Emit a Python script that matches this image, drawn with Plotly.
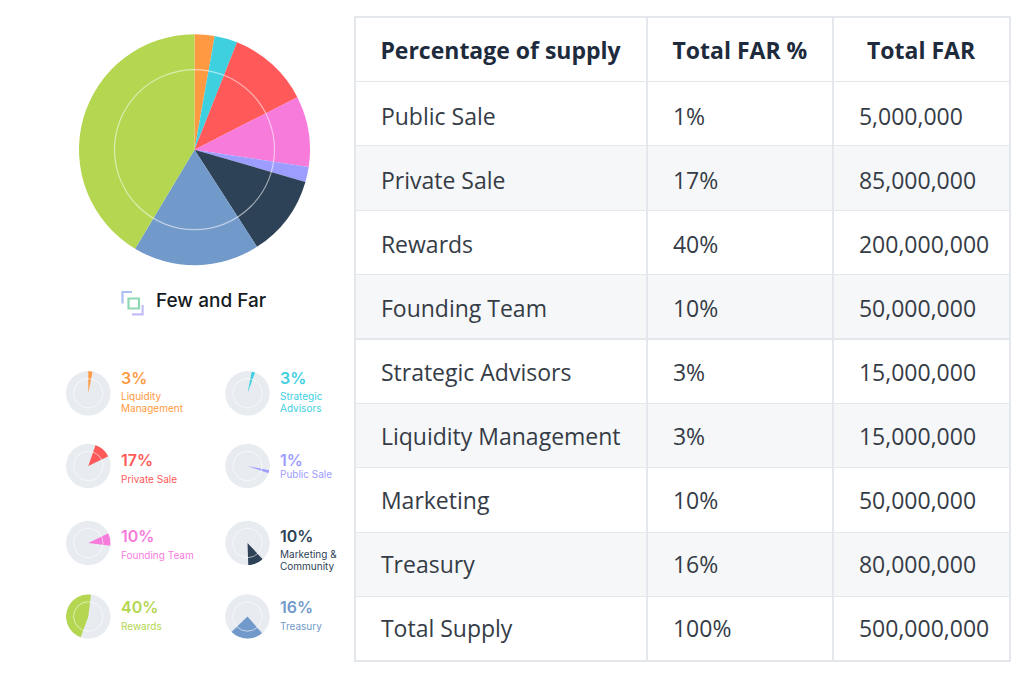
import plotly.graph_objects as go

W, H = 1024, 676

# ---------------- data ----------------
pie_labels = ["Liquidity Management", "Strategic Advisors", "Private Sale", "Founding Team",
              "Public Sale", "Marketing", "Treasury", "Rewards"]
pie_values = [2.8, 3.2, 11.5, 9.9, 2.1, 11.4, 17.7, 41.4]
pie_colors = ["#FF9A42", "#3ED0DF", "#FF5959", "#F77BDB", "#9D9DFF", "#2E4257", "#7199CA", "#B4D650"]

icon_pcts = ["3%", "3%", "17%", "1%", "10%", "10%", "40%", "16%"]
icon_labels = [["Liquidity", "Management"], ["Strategic", "Advisors"], ["Private Sale"], ["Public Sale"],
               ["Founding Team"], ["Marketing &", "Community"], ["Rewards"], ["Treasury"]]
icon_colors = ["#FF9A42", "#3ED0DF", "#FF5959", "#9D9DFF", "#F77BDB", "#2E4257", "#B4D650", "#7199CA"]
icon_start = [0, 11, 19, 101, 64, 137, 200, 139]
icon_end = [11, 20, 64, 109, 97, 178, 367, 226]

tbl_header = ["Percentage of supply", "Total FAR %", "Total FAR"]
tbl_categories = ["Public Sale", "Private Sale", "Rewards", "Founding Team", "Strategic Advisors",
                  "Liquidity Management", "Marketing", "Treasury", "Total Supply"]
tbl_pct = [1, 17, 40, 10, 3, 3, 10, 16, 100]
tbl_far = [5000000, 85000000, 200000000, 50000000, 15000000, 15000000, 50000000, 80000000, 500000000]

# ---------------- helpers ----------------
def X(px):
    return px / W

def Y(py):
    return 1 - py / H

GRAY = "#E8ECF1"
CLEAR = "rgba(0,0,0,0)"
fig = go.Figure()
shapes = []
annotations = []

# main pie
pcx, pcy, pr = 194.5, 149.7, 115.5
fig.add_trace(go.Pie(
    labels=pie_labels, values=pie_values, sort=False, direction="clockwise", rotation=0,
    marker=dict(colors=pie_colors, line=dict(width=0)), textinfo="none",
    domain=dict(x=[X(pcx - pr), X(pcx + pr)], y=[Y(pcy + pr), Y(pcy - pr)]),
    hoverinfo="label+percent",
))
ir = 80
shapes.append(dict(type="circle", xref="paper", yref="paper",
                   x0=X(pcx - ir), x1=X(pcx + ir), y0=Y(pcy + ir), y1=Y(pcy - ir),
                   line=dict(color="rgba(255,255,255,0.55)", width=1.2), layer="above"))

# icons
centers_x = [88.3, 247.5]
centers_y = [393.3, 466, 543, 616.5]
ricon = 22.3
layout_polars = {}
pct_y = [377.7, 460.5, 536, 607]
for i in range(8):
    col, row = i % 2, i // 2
    cx, cy = centers_x[col], centers_y[row]
    name = "polar" if i == 0 else f"polar{i+1}"
    s, e = icon_start[i], icon_end[i]
    fig.add_trace(go.Barpolar(
        r=[1], theta=[(s + e) / 2], width=[e - s], base=0,
        marker=dict(color=icon_colors[i], line=dict(width=0)),
        subplot=name, hoverinfo="skip", name=icon_labels[i][0],
    ))
    layout_polars[name] = dict(
        domain=dict(x=[X(cx - ricon), X(cx + ricon)], y=[Y(cy + ricon), Y(cy - ricon)]),
        bgcolor=GRAY,
        radialaxis=dict(range=[0, 1], visible=False),
        angularaxis=dict(visible=False, rotation=90, direction="clockwise"),
    )
    rr = ricon * 0.66
    shapes.append(dict(type="circle", xref="paper", yref="paper",
                       x0=X(cx - rr), x1=X(cx + rr), y0=Y(cy + rr), y1=Y(cy - rr),
                       line=dict(color="rgba(255,255,255,0.6)", width=1), layer="above"))
    tx = 118.5 if col == 0 else 277.5
    annotations.append(dict(text=icon_pcts[i], x=X(tx), y=Y(pct_y[row]), xref="paper", yref="paper",
                            xanchor="left", yanchor="middle", showarrow=False,
                            font=dict(family="Inter", size=16, color=icon_colors[i], weight=600)))
    lines = icon_labels[i]
    if len(lines) == 1 and i == 3:
        ly = [474]
    elif len(lines) == 1:
        ly = [pct_y[row] + 18.5]
    else:
        ly = [pct_y[row] + 18, pct_y[row] + 30]
    for t, yy in zip(lines, ly):
        annotations.append(dict(text=t, x=X(tx), y=Y(yy), xref="paper", yref="paper",
                                xanchor="left", yanchor="middle", showarrow=False,
                                font=dict(family="Inter", size=10, color=icon_colors[i])))

# logo
shapes.append(dict(type="path", xref="paper", yref="paper",
                   path=f"M {X(122.5)} {Y(303.5)} L {X(122.5)} {Y(292)} L {X(132)} {Y(292)}",
                   line=dict(color="#A9C0F2", width=2.2)))
shapes.append(dict(type="rect", xref="paper", yref="paper",
                   x0=X(128.5), x1=X(139), y0=Y(308.5), y1=Y(298.5),
                   line=dict(color="#8ED9B4", width=2.2)))
shapes.append(dict(type="path", xref="paper", yref="paper",
                   path=f"M {X(132)} {Y(314.3)} L {X(142.6)} {Y(314.3)} L {X(142.6)} {Y(305)}",
                   line=dict(color="#C2BDF6", width=2.2)))
annotations.append(dict(text="Few and Far", x=X(154), y=Y(300.5), xref="paper", yref="paper",
                        xanchor="left", yanchor="middle", showarrow=False,
                        font=dict(family="Inter", size=19, color="#151A22", weight=500)))

# table: grid layer (fills and lines)
n = len(tbl_categories)
row_fill = ["#FFFFFF" if k % 2 == 0 else "#F5F7F9" for k in range(n)]
cols = [[c for c in tbl_categories], [f"{v}%" for v in tbl_pct], [f"{v:,}" for v in tbl_far]]
fig.add_trace(go.Table(
    domain=dict(x=[X(355), X(1010.5)], y=[Y(662.5), Y(17)]),
    columnwidth=[292, 186, 177],
    header=dict(values=["" for _ in tbl_header], height=64.4,
                fill_color="#FFFFFF", line=dict(color="#E4E7EB", width=1.3)),
    cells=dict(values=[["" for _ in c] for c in cols],
               height=64.4, fill_color=[row_fill] * 3,
               line=dict(color="#E4E7EB", width=1.3)),
    hoverinfo="skip",
))
# table: text layer (same table, text centred vertically in its rows)
pad = "\u00a0\u00a0\u00a0"
fig.add_trace(go.Table(
    domain=dict(x=[X(355), X(1010.5)], y=[0, Y(26)]),
    columnwidth=[292, 186, 177],
    header=dict(values=[f"<b>{h}</b>" for h in tbl_header], height=73.5,
                fill_color=CLEAR, line=dict(color=CLEAR, width=0), align="center",
                font=dict(family="Open Sans", size=23, color="#1E2B3C")),
    cells=dict(values=[[pad + v for v in c] for c in cols],
               height=64, fill_color=CLEAR,
               line=dict(color=CLEAR, width=0), align="left",
               font=dict(family="Open Sans", size=23, color="#353C46")),
))

fig.update_layout(width=W, height=H, margin=dict(l=0, r=0, t=0, b=0),
                  paper_bgcolor="#FFFFFF", plot_bgcolor="#FFFFFF", showlegend=False,
                  shapes=shapes, annotations=annotations, **layout_polars)
fig.write_html("out.html")
